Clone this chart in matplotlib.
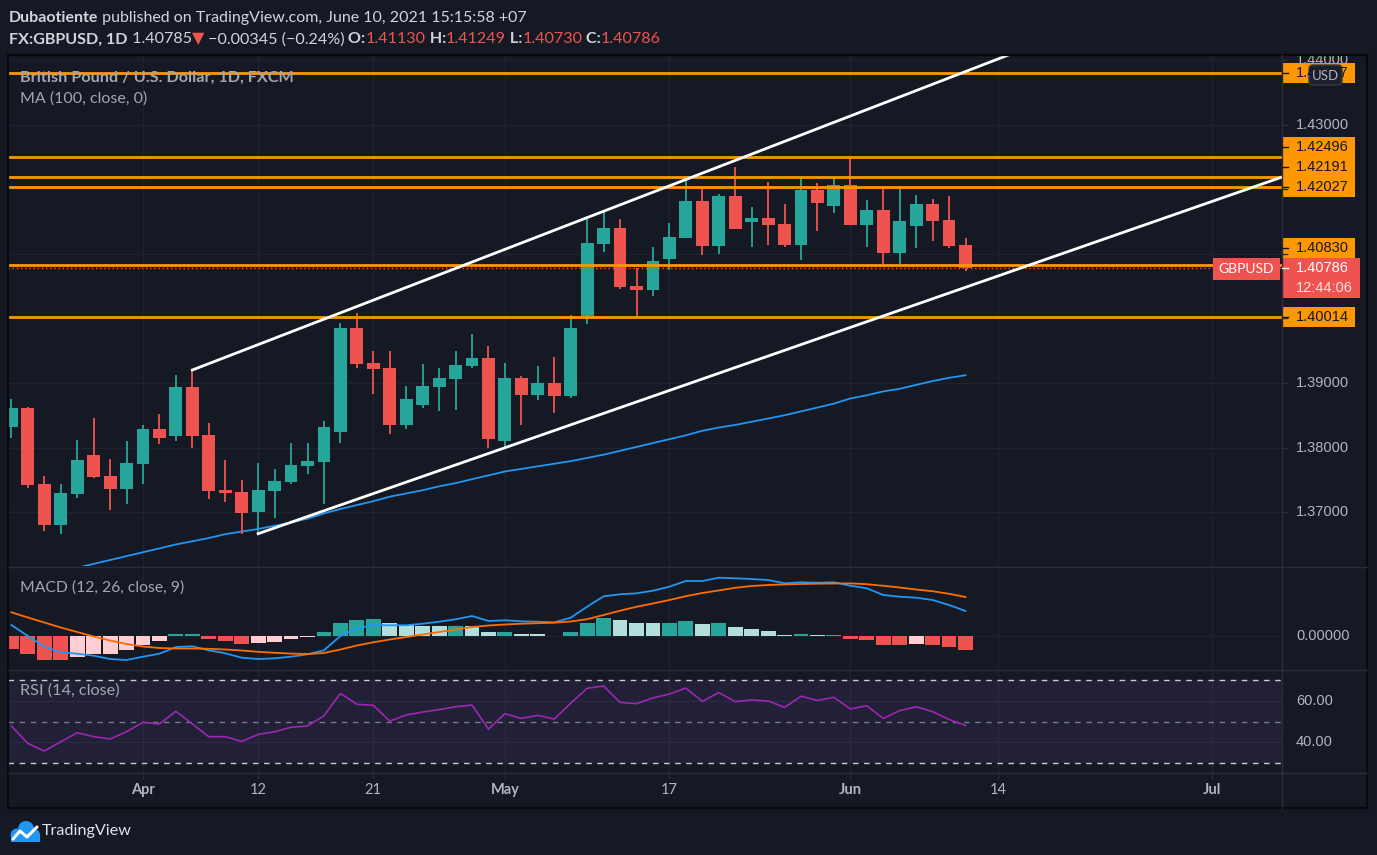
import numpy as np
import pandas as pd
import matplotlib
matplotlib.use('Agg')
import matplotlib.pyplot as plt
from matplotlib.patches import Rectangle, FancyBboxPatch, Circle

W, H = 1377, 855
BG = '#151924'
GRID = '#1f2330'
SEP = '#2a2e39'
TXT = '#b2b5be'
UP = '#26a69a'
DN = '#ef5350'
ORANGE = '#ff9800'
FONT = ['Lato', 'DejaVu Sans']
NUMFONT = ['Liberation Sans', 'DejaVu Sans']

# ---------------- data ----------------
days = pd.bdate_range('2021-03-22', '2021-07-09')   # trading days, first 59 have bars

opens = [1.38324, 1.38613, 1.37437, 1.36806, 1.37286, 1.37885, 1.37560, 1.37364, 1.37746, 1.38288,
         1.38184, 1.38938, 1.38195, 1.37344, 1.37313, 1.37008, 1.37333, 1.37472, 1.37720, 1.37782,
         1.38246, 1.39851, 1.39310, 1.39232, 1.38354, 1.38664, 1.38943, 1.39067, 1.39268, 1.39387,
         1.38107, 1.39077, 1.38819, 1.39000, 1.38803, 1.40042, 1.41156, 1.41399, 1.40502, 1.40444,
         1.40924, 1.41249, 1.41817, 1.41125, 1.41895, 1.41497, 1.41554, 1.41461, 1.41141, 1.41988,
         1.41745, 1.42065, 1.41450, 1.41678, 1.41017, 1.41435, 1.41771, 1.41523, 1.41130]
highs = [1.38752, 1.38628, 1.37560, 1.37437, 1.38118, 1.38458, 1.37824, 1.38102, 1.38350, 1.38520,
         1.39124, 1.39201, 1.38381, 1.37808, 1.37498, 1.37762, 1.37669, 1.38071, 1.38071, 1.38412,
         1.39929, 1.40079, 1.39495, 1.39495, 1.38954, 1.39294, 1.39232, 1.39495, 1.39759, 1.39573,
         1.39310, 1.39108, 1.39263, 1.39402, 1.40053, 1.41580, 1.41673, 1.41539, 1.40785, 1.41105,
         1.41477, 1.42204, 1.42023, 1.41926, 1.42344, 1.41724, 1.42111, 1.41771, 1.42204, 1.42096,
         1.42189, 1.42500, 1.41833, 1.42034, 1.42003, 1.41910, 1.41848, 1.41895, 1.41249]
lows = [1.38153, 1.37379, 1.36714, 1.36667, 1.37224, 1.37534, 1.37039, 1.37132, 1.37441, 1.38060,
        1.38107, 1.37998, 1.37204, 1.37163, 1.36667, 1.36667, 1.36915, 1.37441, 1.37596, 1.37132,
        1.38076, 1.39237, 1.38834, 1.38215, 1.38293, 1.38618, 1.38571, 1.38587, 1.39237, 1.37998,
        1.37998, 1.38354, 1.38741, 1.38540, 1.38772, 1.39918, 1.41033, 1.40460, 1.40042, 1.40351,
        1.40754, 1.41237, 1.40986, 1.41002, 1.41376, 1.41110, 1.41141, 1.41110, 1.40909, 1.41358,
        1.41636, 1.41440, 1.41110, 1.40847, 1.40847, 1.41094, 1.41203, 1.41094, 1.40730]
closes = [1.38613, 1.37426, 1.36806, 1.37297, 1.37808, 1.37545, 1.37364, 1.37762, 1.38288, 1.38153,
          1.38938, 1.38184, 1.37333, 1.37302, 1.36992, 1.37344, 1.37483, 1.37731, 1.37793, 1.38319,
          1.39851, 1.39299, 1.39221, 1.38354, 1.38752, 1.38954, 1.39077, 1.39279, 1.39387, 1.38138,
          1.39077, 1.38819, 1.39000, 1.38803, 1.39851, 1.41167, 1.41399, 1.40491, 1.40444, 1.40889,
          1.41260, 1.41817, 1.41125, 1.41895, 1.41389, 1.41554, 1.41450, 1.41141, 1.41988, 1.41791,
          1.42065, 1.41450, 1.41678, 1.41017, 1.41508, 1.41771, 1.41512, 1.41125, 1.40786]
ma100 = [1.3590, 1.3597, 1.3603, 1.3609, 1.3614, 1.3620, 1.3626, 1.3632, 1.3638, 1.3644,
         1.3650, 1.3655, 1.3660, 1.3666, 1.3670, 1.3674, 1.3679, 1.3684, 1.3690, 1.3698,
         1.3705, 1.3711, 1.3717, 1.3724, 1.3729, 1.3734, 1.3740, 1.3745, 1.3751, 1.3757,
         1.3763, 1.3767, 1.3771, 1.3775, 1.3779, 1.3784, 1.3789, 1.3795, 1.3801, 1.3807,
         1.3813, 1.3819, 1.3826, 1.3831, 1.3835, 1.3840, 1.3845, 1.3850, 1.3856, 1.3862,
         1.3868, 1.3876, 1.3881, 1.3887, 1.3891, 1.3897, 1.3903, 1.3908, 1.3912]

macd = [0.00110, 0.00000, -0.00107, -0.00163, -0.00177, -0.00197, -0.00230, -0.00240, -0.00207, -0.00177,
        -0.00110, -0.00103, -0.00143, -0.00173, -0.00217, -0.00230, -0.00223, -0.00207, -0.00183, -0.00143,
        0.00000, 0.00077, 0.00110, 0.00107, 0.00107, 0.00123, 0.00143, 0.00167, 0.00200, 0.00150,
        0.00157, 0.00147, 0.00143, 0.00137, 0.00183, 0.00293, 0.00397, 0.00417, 0.00427, 0.00453,
        0.00493, 0.00550, 0.00550, 0.00583, 0.00577, 0.00570, 0.00560, 0.00527, 0.00537, 0.00533,
        0.00537, 0.00503, 0.00477, 0.00410, 0.00393, 0.00383, 0.00360, 0.00310, 0.00250]
signal = [0.00237, 0.00185, 0.00135, 0.00085, 0.00040, -0.00005, -0.00045, -0.00080, -0.00105, -0.00120,
          -0.00125, -0.00125, -0.00128, -0.00135, -0.00145, -0.00158, -0.00168, -0.00176, -0.00180, -0.00170,
          -0.00135, -0.00095, -0.00063, -0.00035, -0.00010, 0.00015, 0.00040, 0.00065, 0.00090, 0.00105,
          0.00115, 0.00123, 0.00128, 0.00133, 0.00145, 0.00168, 0.00210, 0.00253, 0.00292, 0.00325,
          0.00360, 0.00398, 0.00430, 0.00455, 0.00482, 0.00500, 0.00510, 0.00516, 0.00520, 0.00523,
          0.00525, 0.00526, 0.00518, 0.00502, 0.00485, 0.00465, 0.00448, 0.00422, 0.00390]
hist = [-0.00127, -0.00180, -0.00240, -0.00243, -0.00207, -0.00180, -0.00177, -0.00140, -0.00090, -0.00050,
        0.00020, 0.00023, -0.00030, -0.00050, -0.00080, -0.00067, -0.00057, -0.00030, -0.00010, 0.00040,
        0.00130, 0.00160, 0.00170, 0.00130, 0.00107, 0.00103, 0.00097, 0.00103, 0.00100, 0.00040,
        0.00043, 0.00020, 0.00018, 0.00003, 0.00040, 0.00130, 0.00180, 0.00160, 0.00133, 0.00130,
        0.00133, 0.00150, 0.00120, 0.00130, 0.00090, 0.00070, 0.00050, 0.00010, 0.00020, 0.00010,
        0.00013, -0.00030, -0.00040, -0.00090, -0.00093, -0.00080, -0.00090, -0.00110, -0.00140]
rsi = [47.8, 39.3, 35.6, 40.1, 44.5, 42.6, 41.5, 45.0, 49.6, 48.8,
       55.0, 48.8, 42.6, 42.6, 40.3, 43.7, 45.0, 47.2, 47.8, 52.8,
       63.7, 58.4, 57.9, 50.2, 53.2, 54.6, 55.8, 57.2, 58.0, 46.3,
       53.8, 51.5, 53.0, 51.2, 58.9, 66.2, 67.3, 59.3, 58.7, 61.5,
       63.4, 66.3, 59.8, 64.1, 59.7, 60.5, 60.0, 56.9, 62.3, 60.3,
       61.8, 56.1, 57.7, 51.5, 55.3, 57.2, 54.8, 51.0, 48.1]

levels = [1.43797, 1.42496, 1.42191, 1.42027, 1.40830, 1.40014]
price_ticks = [1.37, 1.38, 1.39, 1.40, 1.41, 1.42, 1.43, 1.44]
# channel drawn between two anchor bars (index, price)
upper_x, upper_y = [11, 62], [1.39201, 1.44214]
lower_x, lower_y = [15, 78], [1.36667, 1.42255]

tick_dates = ['2021-04-01', '2021-04-12', '2021-04-21', '2021-05-03',
              '2021-05-17', '2021-06-01', '2021-06-14', '2021-07-01']
tick_labels = ['Apr', '12', '21', 'May', '17', 'Jun', '14', 'Jul']

# ---------------- figure ----------------
fig = plt.figure(figsize=(W / 100, H / 100), dpi=100)
fig.patch.set_facecolor(BG)


def fx(x):
    return x / W


def fy(y):
    return 1 - y / H


x0, x1 = 8, 1282
xl = ((x0 - 11.4) / 16.45, (x1 - 11.4) / 16.45)

ax = fig.add_axes([fx(x0), fy(566), (x1 - x0) / W, 511 / H])
ax_m = fig.add_axes([fx(x0), fy(669), (x1 - x0) / W, 102 / H])
ax_r = fig.add_axes([fx(x0), fy(772), (x1 - x0) / W, 102 / H])

tick_idx = [days.get_loc(pd.Timestamp(d)) for d in tick_dates]

for a in (ax, ax_m, ax_r):
    a.set_facecolor(BG)
    a.set_xlim(xl)
    a.set_xticks([])
    a.set_yticks([])
    for s in a.spines.values():
        s.set_visible(False)
    for i in tick_idx:
        a.axvline(i, color=GRID, lw=1, zorder=0)

x = np.arange(len(closes))
o = np.array(opens)
c = np.array(closes)

# main pane
ax.set_ylim(1.36167, 1.44077)
for p in price_ticks:
    ax.axhline(p, color=GRID, lw=1, zorder=0)
cols = [UP if cc >= oo else DN for oo, cc in zip(o, c)]
ax.vlines(x, lows, highs, colors=cols, lw=1.3, zorder=3)
ax.bar(x, np.maximum(np.abs(c - o), 0.00018), bottom=np.minimum(o, c),
       width=0.78, color=cols, zorder=4)
ax.plot(x, ma100, color='#2196f3', lw=1.3, zorder=2)
ax.axhline(closes[-1], color=DN, lw=1, ls=(0, (1, 2)), zorder=1)
for lv in levels:
    ax.axhline(lv, color=ORANGE, lw=2, zorder=5)
ax.plot(upper_x, upper_y, color='white', lw=2, zorder=6)
ax.plot(lower_x, lower_y, color='white', lw=2, zorder=6)

# MACD pane
ax_m.set_ylim(-0.0033, 0.0069)
ax_m.axhline(0, color=GRID, lw=1, zorder=0)
h = np.array(hist)
prev = np.concatenate([[0], h[:-1]])
hcols = []
for v, pv in zip(h, prev):
    if v >= 0:
        hcols.append(UP if v > pv else '#b2dfdb')
    else:
        hcols.append(DN if v < pv else '#ffcdd2')
ax_m.bar(x, h, width=0.9, color=hcols, zorder=2)
ax_m.plot(x, macd, color='#2196f3', lw=1.3, zorder=3)
ax_m.plot(x, signal, color='#ff6d00', lw=1.3, zorder=3)

# RSI pane
ax_r.set_ylim(25.37, 75.12)
ax_r.axhspan(30, 70, color='#7e57c2', alpha=0.12, lw=0, zorder=0)
for g in (40, 60):
    ax_r.axhline(g, color='#2c2a44', lw=1, zorder=1)
ax_r.axhline(70, color='#c8cad0', lw=1, ls=(0, (4, 4)), zorder=2)
ax_r.axhline(30, color='#c8cad0', lw=1, ls=(0, (4, 4)), zorder=2)
ax_r.axhline(50, color='#787b86', lw=1, ls=(0, (4, 4)), zorder=2)
ax_r.plot(x, rsi, color='#9c27b0', lw=1.2, zorder=3)

# ---------------- overlay in pixel coordinates ----------------
ov = fig.add_axes([0, 0, 1, 1])
ov.set_xlim(0, W)
ov.set_ylim(H, 0)
ov.axis('off')
ov.set_zorder(10)
ov.patch.set_visible(False)
renderer = fig.canvas.get_renderer()


def ypix(a, v):
    return H - a.transData.transform((0, v))[1]


def xpix(a, i):
    return a.transData.transform((i, 0))[0]


def place(xs, y, parts, size, width=None, family=FONT, va='baseline'):
    texts = [ov.text(xs, y, s, color=col, fontweight=wt, fontsize=size,
                     family=family, va=va, ha='left') for s, col, wt in parts]
    ws = [t.get_window_extent(renderer).width for t in texts]
    if width:
        k = width / sum(ws)
        for t in texts:
            t.set_fontsize(size * k)
        ws = [t.get_window_extent(renderer).width for t in texts]
    for t, w in zip(texts, ws):
        t.set_x(xs)
        xs += w
    return texts


# separators and frame
for yy in (566.5, 669.5, 772.5):
    ov.plot([8, 1367], [yy, yy], color=SEP, lw=1)
ov.plot([1282, 1282], [55, 808], color=SEP, lw=1)
ov.add_patch(Rectangle((8, 55), 1359, 753, fill=False, ec='#07090d', lw=1.6))

# header
WHITE = '#d1d4dc'
place(9, 21.7, [('Dubaotiente', WHITE, 'bold'),
                (' published on TradingView.com, June 10, 2021 15:15:58 +07', WHITE, 'normal')],
      10.5, width=524)
place(9, 43.3, [('FX:GBPUSD, 1D', WHITE, 'bold'), (' 1.40785', WHITE, 'normal'),
                ('\u25bc', DN, 'normal'), (' \u22120.00345 (\u22120.24%)', WHITE, 'normal'),
                (' O:', WHITE, 'bold'), ('1.41130', DN, 'normal'),
                (' H:', WHITE, 'bold'), ('1.41249', DN, 'normal'),
                (' L:', WHITE, 'bold'), ('1.40730', DN, 'normal'),
                (' C:', WHITE, 'bold'), ('1.40786', DN, 'normal')],
      10.5, width=656)

# pane titles
place(20, 77.5, [('British Pound / U.S. Dollar, 1D, FXCM', '#a3a6af', 'bold')], 9.5, width=275, va='center')
place(20, 98.5, [('MA (100, close, 0)', '#a3a6af', 'normal')], 9.5, width=127, va='center')
place(20, 588, [('MACD (12, 26, close, 9)', '#a3a6af', 'normal')], 9.5, width=165, va='center')
place(20, 691, [('RSI (14, close)', '#a3a6af', 'normal')], 9.5, width=100, va='center')

# level boxes, stacked so they do not overlap
items = sorted([(lv, 'lvl') for lv in levels] + [(closes[-1], 'cur')])
prev_top = 1e9
spans = []
for p, kind in items:
    yc = ypix(ax, p)
    if kind == 'cur':
        ov.add_patch(Rectangle((1213, yc - 10), 67, 22, fc=DN, ec='none'))
        ov.text(1246.5, yc + 1, 'GBPUSD', color='white', fontsize=10, family=FONT,
                va='center', ha='center')
        ov.add_patch(Rectangle((1282, yc - 10), 78, 40, fc=DN, ec='none'))
        ov.plot([1282, 1288], [yc, yc], color='white', lw=1)
        ov.text(1296, yc, f'{p:.5f}', color='white', fontsize=10.5, family=NUMFONT, va='center')
        ov.text(1296, yc + 20, '12:44:06', color='#fde0e0', fontsize=10.5, family=NUMFONT, va='center')
        spans.append((yc - 10, yc + 30))
        prev_top = yc - 10
    else:
        if yc + 10 > prev_top:
            yc = prev_top - 10
        ov.add_patch(Rectangle((1282, yc - 10), 73, 20, fc=ORANGE, ec='none'))
        ov.plot([1282, 1288], [yc, yc], color='#131722', lw=1)
        ov.text(1296, yc, f'{p:.5f}', color='#131722', fontsize=10.5, family=NUMFONT, va='center')
        spans.append((yc - 10, yc + 10))
        prev_top = yc - 10

# price axis labels (the ones whose centre lies under a level box are not drawn)
for p in price_ticks:
    yy = ypix(ax, p)
    ov.plot([1282, 1287], [yy, yy], color=SEP, lw=1)
    if any(t < yy < b for t, b in spans):
        continue
    ov.text(1296, yy, f'{p:.5f}', color=TXT, fontsize=10.5, family=NUMFONT, va='center', ha='left',
            zorder=-1)
yy = ypix(ax_m, 0)
ov.text(1296, yy, '0.00000', color=TXT, fontsize=10.5, family=NUMFONT, va='center', ha='left')
for g in (60, 40):
    yy = ypix(ax_r, g)
    ov.text(1296, yy, f'{g:.2f}', color=TXT, fontsize=10.5, family=NUMFONT, va='center', ha='left')

# currency badge
ov.add_patch(FancyBboxPatch((1309, 65), 33, 20, boxstyle='round,pad=0,rounding_size=4',
                            fc='#1e222d', ec='#363a45', lw=1))
ov.text(1325.5, 75.5, 'USD', color=TXT, fontsize=9.5, family=FONT, va='center', ha='center')

# time axis
for i, lab in zip(tick_idx, tick_labels):
    xx = xpix(ax_r, i)
    ov.plot([xx, xx], [772.5, 778], color=SEP, lw=1)
    ov.text(xx, 790, lab, color=TXT, fontsize=10.5, family=FONT, va='center', ha='center',
            fontweight='bold' if lab.isalpha() else 'normal')

# footer logo
BLUE = '#2196f3'
for cx, cy, r in [(17, 835, 6.5), (26, 829, 8), (34, 835, 6)]:
    ov.add_patch(Circle((cx, cy), r, fc=BLUE, ec='none'))
ov.add_patch(Rectangle((11, 835), 29, 6.5, fc=BLUE, ec='none'))
ov.plot([13, 20, 27, 37], [839, 831, 837, 827], color='white', lw=2.2, solid_capstyle='round')
place(42, 831, [('TradingView', '#e0e3eb', 'normal')], 11, width=90, va='center')

fig.savefig('out.png', dpi=100, facecolor=BG)
